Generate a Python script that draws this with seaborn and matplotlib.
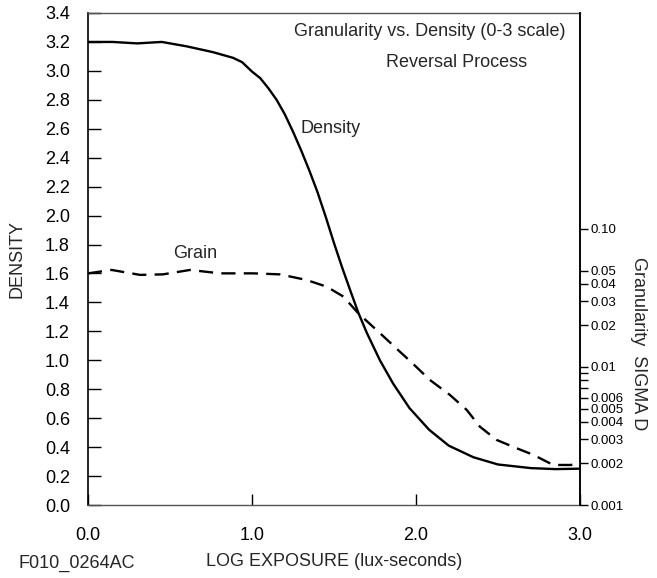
import matplotlib
matplotlib.use('Agg')
import matplotlib.pyplot as plt
import matplotlib.ticker as mticker
import seaborn as sns
import pandas as pd

# density curve (left axis)
density_x = [0.0, 0.15, 0.3, 0.45, 0.6, 0.76, 0.885, 0.94, 1.0, 1.05, 1.1, 1.15, 1.2,
             1.25, 1.3, 1.35, 1.4, 1.45, 1.5, 1.55, 1.6, 1.648, 1.7, 1.78, 1.86,
             1.96, 2.08, 2.2, 2.35, 2.5, 2.7, 2.85, 3.0]
density_y = [3.2, 3.2, 3.19, 3.2, 3.17, 3.13, 3.09, 3.06, 2.995, 2.95, 2.88, 2.80, 2.70,
             2.58, 2.45, 2.31, 2.16, 1.99, 1.81, 1.64, 1.48, 1.33, 1.19, 1.0, 0.84,
             0.67, 0.52, 0.41, 0.33, 0.28, 0.255, 0.248, 0.251]

# granularity curve (right axis, sigma D)
grain_x = [0.0, 0.144, 0.317, 0.457, 0.622, 0.805, 1.008, 1.171, 1.333, 1.455, 1.557,
           1.648, 1.78, 1.902, 1.98, 2.085, 2.207, 2.309, 2.39, 2.492, 2.613, 2.715,
           2.837, 2.94, 3.0]
grain_sigma = [0.0477, 0.0505, 0.0465, 0.0469, 0.0505, 0.0477, 0.0477, 0.0469, 0.0427,
               0.0382, 0.0324, 0.0245, 0.0176, 0.0129, 0.0106, 0.00805, 0.00627,
               0.00489, 0.00369, 0.00296, 0.00258, 0.00231, 0.00195, 0.00195, 0.00198]

density_ticks = [0.0, 0.2, 0.4, 0.6, 0.8, 1.0, 1.2, 1.4, 1.6, 1.8, 2.0, 2.2, 2.4, 2.6,
                 2.8, 3.0, 3.2, 3.4]
exposure_ticks = [0.0, 1.0, 2.0, 3.0]
sigma_ticks = [0.001, 0.002, 0.003, 0.004, 0.005, 0.006, 0.01, 0.02, 0.03, 0.04, 0.05, 0.10]
sigma_labels = ['0.001', '0.002', '0.003', '0.004', '0.005', '0.006', '0.01', '0.02',
                '0.03', '0.04', '0.05', '0.10']
sigma_minor = [0.007, 0.008, 0.009]


def main():
    sns.set_theme(style='white')
    plt.rcParams['font.family'] = ['Liberation Sans', 'DejaVu Sans']

    df_density = pd.DataFrame({'log_exposure': density_x, 'density': density_y})
    df_grain = pd.DataFrame({'log_exposure': grain_x, 'sigma': grain_sigma})

    fig = plt.figure(figsize=(6.57, 5.78), dpi=100)
    ax = fig.add_axes([88 / 657, 1 - 505 / 578, 492 / 657, 492 / 578])

    sns.lineplot(data=df_density, x='log_exposure', y='density', color='black',
                 linewidth=1.7, sort=False, ax=ax)
    ax.set_xlim(0, 3)
    ax.set_ylim(0, 3.4)
    ax.set_xticks(exposure_ticks)
    ax.set_xticklabels(['0.0', '1.0', '2.0', '3.0'])
    ax.set_yticks(density_ticks)
    ax.set_yticklabels([f'{t:.1f}' for t in density_ticks])
    ax.tick_params(axis='y', direction='in', length=9, width=1, pad=13,
                   labelsize=13, colors='black', left=True)
    ax.tick_params(axis='x', direction='in', length=8, width=1, pad=15.5,
                   labelsize=13, colors='black', bottom=True)
    ax.set_xlabel('LOG EXPOSURE (lux-seconds)', fontsize=13, labelpad=7)
    ax.set_ylabel('DENSITY', fontsize=13)
    ax.yaxis.set_label_coords(-0.128, 0.5)
    for side in ['top', 'bottom']:
        ax.spines[side].set_color('#555555')
        ax.spines[side].set_linewidth(1)
    ax.spines['left'].set_color('black')
    ax.spines['left'].set_linewidth(1.2)

    ax2 = ax.twinx()
    sns.lineplot(data=df_grain, x='log_exposure', y='sigma', color='black',
                 linewidth=1.7, sort=False, ax=ax2)
    ax2.lines[0].set_dashes((6, 3.5))
    ax2.set_yscale('log')
    ax2.set_ylim(0.001, 10 ** (3.4 * 144.7 / 138 - 3))
    ax2.yaxis.set_major_locator(mticker.FixedLocator(sigma_ticks))
    ax2.yaxis.set_major_formatter(mticker.FixedFormatter(sigma_labels))
    ax2.yaxis.set_minor_locator(mticker.FixedLocator(sigma_minor))
    ax2.yaxis.set_minor_formatter(mticker.NullFormatter())
    ax2.tick_params(axis='y', which='both', direction='out', length=6, width=1,
                    pad=1.5, labelsize=9.5, colors='black', right=True)
    ax2.set_ylabel('Granularity  SIGMA D', fontsize=13, rotation=270,
                   va='center', ha='center')
    ax2.yaxis.set_label_coords((639 - 88) / 492, (505 - 344) / 492)
    ax2.spines['right'].set_color('black')
    ax2.spines['right'].set_linewidth(1.2)
    ax2.spines['top'].set_visible(False)
    ax2.spines['bottom'].set_visible(False)
    ax2.spines['left'].set_visible(False)
    ax2.set_xlim(0, 3)

    ax.text(2.085, 3.27, 'Granularity vs. Density (0-3 scale)', fontsize=13,
            ha='center', va='center')
    ax.text(2.245, 3.06, 'Reversal Process', fontsize=13, ha='center', va='center')
    ax.text(1.476, 2.605, 'Density', fontsize=13, ha='center', va='center')
    ax.text(0.655, 1.735, 'Grain', fontsize=13, ha='center', va='center')
    fig.text(18 / 657, 1 - 563 / 578, 'F010_0264AC', fontsize=13, ha='left', va='center')

    fig.savefig('out.png', dpi=100)


if __name__ == '__main__':
    main()
